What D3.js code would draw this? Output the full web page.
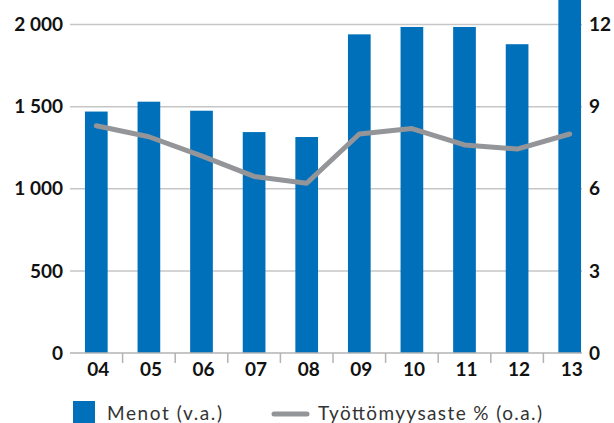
<!DOCTYPE html>
<html>
<head>
<meta charset="utf-8">
<script src="https://cdn.jsdelivr.net/npm/d3@7"></script>
<style>
  body { margin: 0; background: #fff; }
  svg { display: block; font-family: Lato, "Open Sans", sans-serif; }
</style>
</head>
<body>
<div id="chart"></div>
<script>
var years = ['04', '05', '06', '07', '08', '09', '10', '11', '12', '13'];
var menot = [1470, 1530, 1475, 1345, 1315, 1940, 1985, 1985, 1880, 2250];
var tyottomyys = [8.3, 7.9, 7.2, 6.45, 6.2, 8.0, 8.2, 7.6, 7.45, 8.0];
var leftTicks = [0, 500, 1000, 1500, 2000];
var rightTicks = [0, 3, 6, 9, 12];

(function(d3) {
  'use strict';
  var width = 614;
  var height = 423;
  var left = 70, right = 582, top = 24.5, bottom = 353;
  var barColor = '#0070ba';
  var lineColor = '#939598';

  var svg = d3.select('#chart')
    .append('svg')
    .attr('width', width)
    .attr('height', height);

  var x = d3.scaleBand()
    .domain(years)
    .range([left, left + 52.6 * years.length]);
  var barWidth = 22.7;
  var y = d3.scaleLinear().domain([0, 2000]).range([bottom, top]);
  var y2 = d3.scaleLinear().domain([0, 12]).range([bottom, top]);

  // gridlines
  svg.selectAll('.grid')
    .data(leftTicks.slice(1))
    .enter()
    .append('line')
    .attr('x1', left)
    .attr('x2', right)
    .attr('y1', function(d) { return y(d); })
    .attr('y2', function(d) { return y(d); })
    .attr('stroke', '#c6c6c6')
    .attr('stroke-width', 1.5);

  // bars
  svg.selectAll('.bar')
    .data(menot)
    .enter()
    .append('rect')
    .attr('x', function(d, i) { return x(years[i]) + (x.bandwidth() - barWidth) / 2; })
    .attr('y', function(d) { return y(d); })
    .attr('width', barWidth)
    .attr('height', function(d) { return bottom - y(d); })
    .attr('fill', barColor);

  // x axis line and ticks
  svg.append('line')
    .attr('x1', left)
    .attr('x2', right)
    .attr('y1', bottom)
    .attr('y2', bottom)
    .attr('stroke', '#b3b3b3')
    .attr('stroke-width', 1.5);
  svg.selectAll('.xtick')
    .data(years.slice(1))
    .enter()
    .append('line')
    .attr('x1', function(d) { return x(d); })
    .attr('x2', function(d) { return x(d); })
    .attr('y1', bottom)
    .attr('y2', bottom + 10)
    .attr('stroke', '#b3b3b3')
    .attr('stroke-width', 1.5);
  svg.selectAll('.xlabel')
    .data(years)
    .enter()
    .append('text')
    .attr('x', function(d) { return x(d) + x.bandwidth() / 2 + 2; })
    .attr('y', 376)
    .attr('text-anchor', 'middle')
    .attr('font-size', 19)
    .attr('font-weight', 'bold')
    .attr('fill', '#111')
    .text(function(d) { return d; });

  // left labels
  var fmt = function(d) { return d3.format(',')(d).replace(/,/g, ' '); };
  svg.selectAll('.ylabel')
    .data(leftTicks)
    .enter()
    .append('text')
    .attr('x', 63)
    .attr('y', function(d) { return y(d); })
    .attr('dy', '0.35em')
    .attr('text-anchor', 'end')
    .attr('font-size', 19)
    .attr('font-weight', 'bold')
    .attr('fill', '#111')
    .text(fmt);

  // right labels
  svg.selectAll('.y2label')
    .data(rightTicks)
    .enter()
    .append('text')
    .attr('x', 589)
    .attr('y', function(d) { return y2(d); })
    .attr('dy', '0.35em')
    .attr('font-size', 19)
    .attr('font-weight', 'bold')
    .attr('fill', '#111')
    .text(function(d) { return d; });

  // unemployment line
  var line = d3.line()
    .x(function(d, i) { return x(years[i]) + x.bandwidth() / 2; })
    .y(function(d) { return y2(d); });
  svg.append('path')
    .datum(tyottomyys)
    .attr('d', line)
    .attr('fill', 'none')
    .attr('stroke', lineColor)
    .attr('stroke-width', 5)
    .attr('stroke-linecap', 'round')
    .attr('stroke-linejoin', 'round');

  // legend
  svg.append('rect')
    .attr('x', 73)
    .attr('y', 401)
    .attr('width', 22)
    .attr('height', 24)
    .attr('fill', barColor);
  svg.append('text')
    .attr('x', 107)
    .attr('y', 420)
    .attr('font-size', 19)
    .attr('fill', '#333')
    .attr('textLength', 115)
    .attr('lengthAdjust', 'spacing')
    .text('Menot (v.a.)');
  svg.append('line')
    .attr('x1', 274)
    .attr('x2', 307)
    .attr('y1', 414)
    .attr('y2', 414)
    .attr('stroke', lineColor)
    .attr('stroke-width', 5)
    .attr('stroke-linecap', 'round');
  svg.append('text')
    .attr('x', 318)
    .attr('y', 420)
    .attr('font-size', 19)
    .attr('fill', '#333')
    .attr('textLength', 224)
    .attr('lengthAdjust', 'spacing')
    .text('Työttömyysaste % (o.a.)');
})(window.d3);
</script>
</body>
</html>
